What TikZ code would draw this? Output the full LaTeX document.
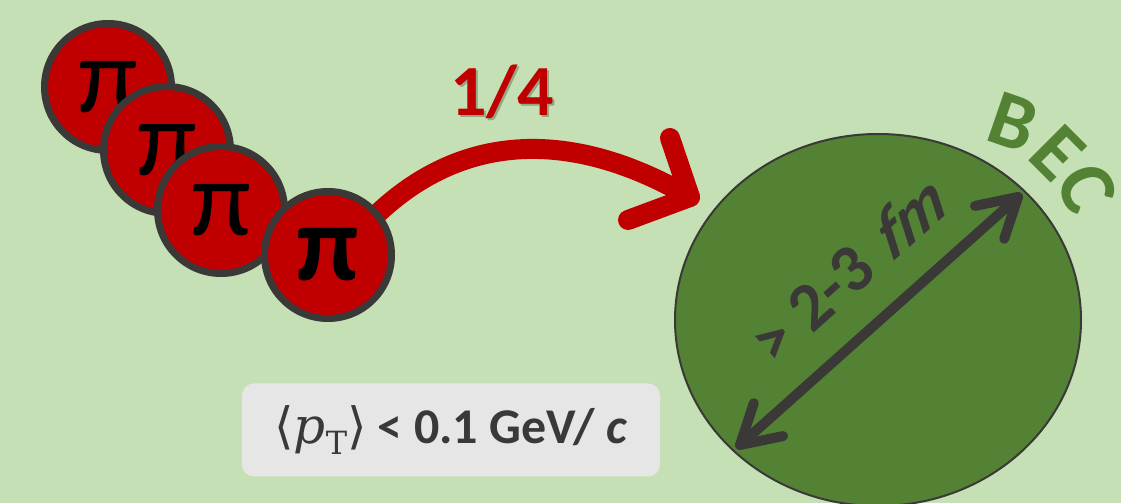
\documentclass[tikz,border=0pt]{standalone}
\usepackage{fontspec}
\setmainfont{Carlito}
\newfontfamily\mser{DejaVu Serif}
\newfontfamily\slfm[FakeSlant=0.45]{Carlito Bold}
\usetikzlibrary{shapes.geometric,calc}
\definecolor{bgc}{HTML}{C5E0B4}
\definecolor{pired}{HTML}{C00000}
\definecolor{dgray}{HTML}{3B3838}
\definecolor{bgreen}{HTML}{548235}
\definecolor{boxc}{HTML}{E7E6E6}
\pgfdeclarelayer{bglayer}
\pgfdeclarelayer{midlayer}
\pgfsetlayers{bglayer,midlayer,main}
\tikzset{
  pion/.style={circle, fill=pired, draw=dgray, line width=7pt, minimum size=127pt, inner sep=0pt, text=black},
  pifont/.style={font=\fontsize{108}{108}\selectfont},
  pifontb/.style={font=\fontsize{108}{108}\selectfont\bfseries},
  redarr/.style={draw=pired, line width=20pt, line cap=round, line join=round},
  darr/.style={draw=dgray, line width=10pt, line cap=round, line join=round},
  letter/.style={text=bgreen, font=\fontsize{80}{80}\selectfont\bfseries, inner sep=0pt}
}
\begin{document}
\begin{tikzpicture}[x=1pt,y=1pt]
\begin{pgfonlayer}{bglayer}
\fill[bgc] (0,0) rectangle (1121,503);
\end{pgfonlayer}
\useasboundingbox (0,0) rectangle (1121,503);

% pions
\node[pion, pifont] (p1) at (108,416) {π};
\node[pion, pifont] (p2) at (167,353) {π};
\node[pion, pifont] (p3) at (221,293) {π};
\node[pion, pifontb] (p4) at (328,248) {π};

% red arrow
\coordinate (tipR) at (690,306);
\coordinate (armR1) at (670,365);
\coordinate (armR2) at (628,283);
\begin{pgfonlayer}{midlayer}
\draw[redarr] (p4.40) .. controls (470,375) and (580,370) .. (tipR);
\draw[redarr] (armR1) -- (tipR) -- (armR2);
\end{pgfonlayer}

% 1/4 label with soft shadow
\node[text=black, opacity=0.25, font=\fontsize{72}{72}\selectfont\bfseries] at (504,409) {1/4};
\node[text=pired, font=\fontsize{72}{72}\selectfont\bfseries] (frac) at (502,411) {1/4};

% BEC ellipse
\node[ellipse, fill=bgreen, draw=dgray, line width=2pt, minimum width=406pt, minimum height=372pt, inner sep=0pt] (bec) at (878,183) {};

% double arrow
\coordinate (dA) at (740,58);
\coordinate (dB) at (1018,306);
\draw[darr] (dA) -- (dB);
\draw[darr] ($(dB)!44pt!30:(dA)$) -- (dB) -- ($(dB)!44pt!-30:(dA)$);
\draw[darr] ($(dA)!44pt!30:(dB)$) -- (dA) -- ($(dA)!44pt!-30:(dB)$);

\node[rotate=41.8, text=dgray, font=\fontsize{68}{68}\selectfont\bfseries] (size) at (846,230) {> 2-3 {\slfm fm}};

% BEC letters
\node[letter, rotate=-19] (lB) at (1013,381) {B};
\node[letter, rotate=-45] (lE) at (1058,350) {E};
\node[letter, rotate=-66] (lC) at (1087,315) {C};

% momentum label
\node[rounded corners=12pt, fill=boxc, minimum width=418pt, minimum height=93pt, text=dgray, font=\fontsize{50}{50}\selectfont\bfseries] (pt) at (451,73) {{\mser\mdseries ⟨\textit{p}\raisebox{-0.22em}{\fontsize{32}{32}\selectfont T}⟩} < 0.1 GeV/ \textit{c}};
\end{tikzpicture}
\end{document}
